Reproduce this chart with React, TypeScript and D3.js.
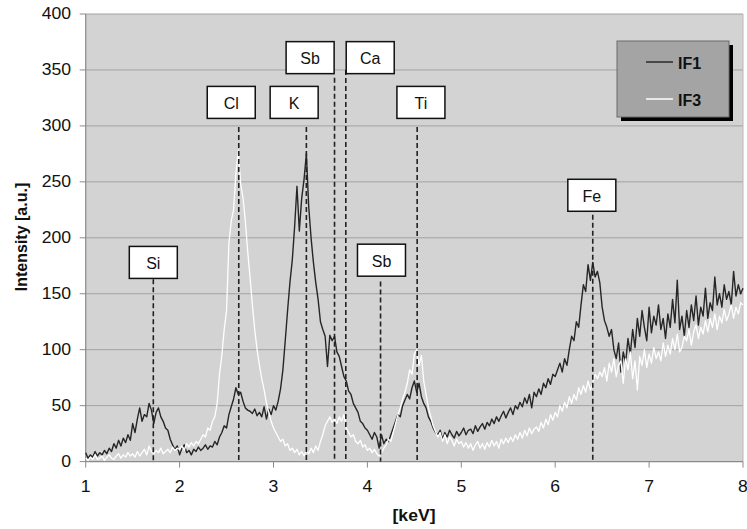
import React from 'react';
import * as d3 from 'd3';

// Spectrum channel calibration (keV of first channel, channel width)
const ENERGY_START = 1;
const ENERGY_STEP = 0.025;

const IF1 = [
  8, 3, 6, 4, 9, 5, 8, 6, 10, 7, 12, 9, 16, 12, 19, 14, 21, 17, 24, 19,
  34, 26, 38, 48, 36, 42, 40, 52, 46, 34, 44, 48, 40, 36, 30, 28, 20, 15, 11, 14,
  6, 12, 15, 8, 10, 6, 11, 9, 13, 10, 12, 15, 11, 14, 13, 18, 15, 22, 26, 32,
  30, 42, 49, 56, 66, 60, 62, 54, 48, 46, 45, 43, 47, 41, 44, 40, 49, 38, 47, 42,
  50, 46, 54, 65, 82, 108, 135, 160, 180, 210, 246, 206, 235, 252, 275, 228, 200, 178, 160, 145,
  125, 118, 112, 85, 113, 108, 112, 98, 94, 85, 76, 72, 63, 60, 52, 48, 44, 36, 34, 30,
  28, 24, 20, 26, 22, 12, 24, 16, 20, 18, 24, 30, 36, 42, 40, 50, 55, 60, 56, 66,
  72, 62, 70, 58, 52, 48, 40, 36, 30, 26, 24, 28, 20, 26, 22, 28, 24, 21, 27, 23,
  26, 30, 24, 28, 29, 25, 32, 27, 31, 34, 29, 35, 32, 38, 34, 40, 36, 41, 45, 39,
  44, 48, 42, 50, 47, 53, 49, 57, 52, 60, 48, 62, 58, 65, 60, 70, 66, 74, 69, 78,
  76, 82, 88, 80, 92, 86, 100, 112, 108, 125, 120, 140, 158, 152, 176, 162, 178, 165, 170, 160,
  138, 126, 120, 112, 118, 100, 92, 106, 80, 98, 88, 110, 96, 118, 102, 128, 112, 135, 120, 108,
  138, 115, 130, 122, 140, 118, 128, 110, 132, 120, 145, 124, 162, 118, 130, 112, 135, 120, 140, 126,
  148, 122, 138, 130, 155, 128, 142, 135, 165, 140, 150, 138, 158, 145, 152, 140, 170, 148, 158, 150,
  155,
];

const IF3 = [
  3, 1, 4, 2, 6, 2, 3, 5, 1, 4, 6, 3, 2, 5, 7, 3, 6, 4, 8, 5,
  7, 4, 9, 5, 8, 11, 6, 14, 9, 7, 10, 8, 12, 7, 9, 11, 8, 13, 10, 12,
  11, 14, 10, 16, 13, 17, 14, 18, 16, 20, 24, 22, 30, 28, 36, 40, 52, 78, 95, 118,
  135, 195, 215, 225, 258, 278, 248, 236, 215, 188, 165, 140, 118, 100, 86, 74, 64, 52, 44, 36,
  30, 26, 22, 18, 20, 14, 16, 10, 12, 8, 11, 6, 9, 5, 10, 7, 12, 8, 14, 10,
  18, 24, 32, 36, 40, 35, 38, 34, 40, 36, 42, 30, 26, 22, 24, 18, 16, 19, 13, 15,
  10, 12, 8, 11, 7, 5, 8, 12, 15, 20, 18, 26, 34, 42, 48, 56, 62, 70, 82, 78,
  96, 100, 86, 95, 72, 60, 48, 40, 32, 27, 22, 26, 18, 24, 16, 22, 19, 14, 20, 16,
  18, 13, 17, 12, 16, 10, 15, 18, 12, 16, 11, 17, 13, 19, 14, 18, 12, 20, 16, 21,
  17, 22, 18, 24, 20, 26, 21, 28, 23, 30, 25, 29, 31, 27, 35, 30, 38, 33, 42, 37,
  44, 40, 50, 45, 53, 48, 58, 52, 60, 55, 66, 60, 68, 62, 72, 64, 70, 78, 74, 80,
  76, 84, 72, 88, 80, 92, 76, 86, 90, 70, 92, 82, 98, 74, 90, 64, 94, 86, 100, 84,
  96, 88, 102, 92, 98, 90, 106, 94, 104, 96, 110, 100, 114, 98, 102, 112, 108, 118, 104, 116,
  122, 110, 120, 114, 126, 116, 128, 120, 132, 118, 130, 124, 136, 126, 132, 140, 128, 138, 132, 142,
  140,
];

const SERIES_NAMES = ['IF1', 'IF3'];

// Element annotations
const ELEMENTS = ['Si', 'Cl', 'K', 'Sb', 'Ca', 'Ti', 'Sb', 'Fe'];
const LINE_KEV = [1.72, 2.63, 3.35, 3.65, 3.77, 4.53, 4.14, 6.4];
const LINE_TOP = [163, 299, 299, 343, 350, 299, 161, 235];
const LABEL_KEV = [1.72, 2.55, 3.22, 3.39, 4.03, 4.57, 4.15, 6.39];
const LABEL_VALUE = [178, 321, 321, 361, 361, 321, 180, 238];

const X_TICKS = [1, 2, 3, 4, 5, 6, 7, 8];
const Y_TICKS = [0, 50, 100, 150, 200, 250, 300, 350, 400];

const FONT = "'Liberation Sans', Arial, Helvetica, sans-serif";

function T({ x, y, children, anchor = 'middle', size = 15, weight = 'normal', sx = 1, rotate = 0, fill = '#111' }: any) {
  return (
    <text
      transform={`translate(${x},${y}) rotate(${rotate}) scale(${sx},1)`}
      textAnchor={anchor}
      dominantBaseline="central"
      fontSize={size}
      fontWeight={weight}
      fontFamily={FONT}
      fill={fill}
    >
      {children}
    </text>
  );
}

export default function App() {
  const W = 747;
  const H = 529;
  const x = d3.scaleLinear().domain([1, 8]).range([85.7, 743]);
  const y = d3.scaleLinear().domain([0, 400]).range([461.6, 14]);
  const keV = IF1.map((_, i) => ENERGY_START + i * ENERGY_STEP);
  const line = d3
    .line<number>()
    .x((_, i) => x(keV[i]))
    .y((d) => y(d));

  const [x0, x1] = x.range();
  const [y0, y1] = y.range();
  const boxW = 48;
  const boxH = 32;

  return (
    <svg width={W} height={H} style={{ position: 'absolute', left: 0, top: 0, background: '#fff' }}>
      <rect x={0} y={0} width={W} height={H} fill="#fff" />
      {/* plot area */}
      <rect x={x0} y={y1} width={x1 - x0} height={y0 - y1} fill="#d3d3d3" />
      {Y_TICKS.filter((t) => t > 0).map((t) => (
        <line key={'g' + t} x1={x0} x2={x1} y1={y(t)} y2={y(t)} stroke="#a2a2a2" strokeWidth={1} />
      ))}
      <line x1={x1} x2={x1} y1={y1} y2={y0} stroke="#b8b8b8" strokeWidth={1} />
      {/* axes */}
      <line x1={x0} x2={x0} y1={y1} y2={y0} stroke="#8a8a8a" strokeWidth={1.2} />
      <line x1={x0} x2={x1} y1={y0} y2={y0} stroke="#8a8a8a" strokeWidth={1.2} />
      {Y_TICKS.map((t) => (
        <g key={'yt' + t}>
          <line x1={x0 - 6} x2={x0} y1={y(t)} y2={y(t)} stroke="#8a8a8a" strokeWidth={1} />
          <T x={71} y={y(t)} anchor="end" size={16} sx={1.1}>
            {t}
          </T>
        </g>
      ))}
      {X_TICKS.map((t) => (
        <g key={'xt' + t}>
          <line x1={x(t)} x2={x(t)} y1={y0} y2={y0 + 6} stroke="#8a8a8a" strokeWidth={1} />
          <T x={x(t)} y={487} size={16} sx={1.1}>
            {t}
          </T>
        </g>
      ))}
      <T x={414} y={516} size={16} weight="bold" sx={1.1}>
        [keV]
      </T>
      <T x={21} y={237} size={16} weight="bold" rotate={-90}>
        Intensity [a.u.]
      </T>

      {/* series */}
      <path d={line(IF1) || ''} fill="none" stroke="#262626" strokeWidth={1.4} strokeLinejoin="round" />
      <path d={line(IF3) || ''} fill="none" stroke="#ffffff" strokeWidth={1.3} strokeLinejoin="round" />

      {/* element markers */}
      {ELEMENTS.map((el, i) => (
        <line
          key={'dl' + i}
          x1={x(LINE_KEV[i])}
          x2={x(LINE_KEV[i])}
          y1={y(LINE_TOP[i])}
          y2={y0}
          stroke="#222"
          strokeWidth={1.6}
          strokeDasharray="5,3"
        />
      ))}
      {ELEMENTS.map((el, i) => (
        <g key={'lb' + i}>
          <rect
            x={x(LABEL_KEV[i]) - boxW / 2}
            y={y(LABEL_VALUE[i]) - boxH / 2}
            width={boxW}
            height={boxH}
            fill="#fff"
            stroke="#111"
            strokeWidth={1.5}
          />
          <T x={x(LABEL_KEV[i])} y={y(LABEL_VALUE[i]) + 1} size={16}>
            {el}
          </T>
        </g>
      ))}

      {/* legend */}
      <rect x={621} y={45} width={112} height={76} fill="#000" />
      <rect x={617} y={41} width={112} height={76} fill="#a4a4a4" stroke="#6a6a6a" strokeWidth={1} />
      {SERIES_NAMES.map((s, i) => (
        <g key={'lg' + s}>
          <line x1={646} x2={673} y1={62 + i * 37} y2={62 + i * 37} stroke={i === 0 ? '#2a2a2a' : '#fff'} strokeWidth={1.5} />
          <T x={678} y={63 + i * 37} anchor="start" size={16} weight="bold">
            {s}
          </T>
        </g>
      ))}
    </svg>
  );
}
